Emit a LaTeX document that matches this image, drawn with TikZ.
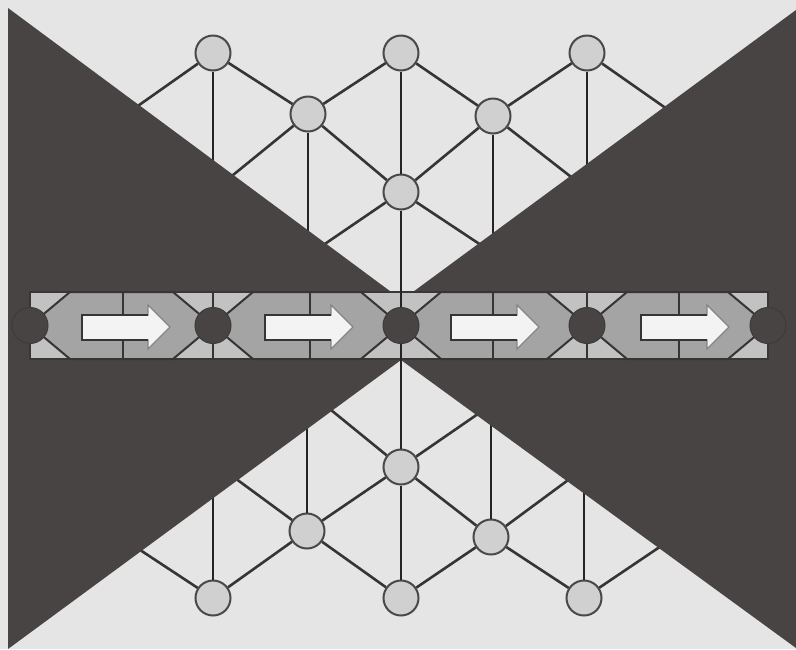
\documentclass[tikz,border=0pt]{standalone}
\usetikzlibrary{calc}
\definecolor{bgl}{HTML}{E5E5E5}
\definecolor{dk}{HTML}{484444}
\definecolor{lin}{HTML}{363434}
\definecolor{vln}{HTML}{262424}
\definecolor{lcf}{HTML}{D0D0D0}
\definecolor{bandl}{HTML}{C2C2C2}
\definecolor{bandm}{HTML}{A4A4A4}
\definecolor{arw}{HTML}{F3F3F3}
\begin{document}
\begin{tikzpicture}[x=1pt,y=-1pt,
  lnode/.style={circle,draw=lin!90,fill=lcf,line width=2pt,minimum size=35pt,inner sep=0pt},
  bnode/.style={circle,draw=dk!85!black,fill=dk,line width=1pt,minimum size=36pt,inner sep=0pt},
  lat/.style={draw=lin,line width=2.6pt},
  vert/.style={draw=vln,line width=2.9pt},
  bline/.style={draw=lin,line width=2pt},
  hexa/.style={fill=bandm,draw=lin,line width=2pt,line join=miter},
  arrowbody/.style={fill=arw,draw=lin!60,line width=1.3pt,line join=miter},
  arrowedge/.style={draw=lin,line width=2.6pt}]
\useasboundingbox (0,0) rectangle (796,649);
\fill[bgl] (0,0) rectangle (796,649);

% ---------- lattice nodes (top) ----------
\node[lnode] (t1a) at (213,53) {};
\node[lnode] (t1b) at (401,53) {};
\node[lnode] (t1c) at (587,53) {};
\node[lnode] (t2a) at (308,114) {};
\node[lnode] (t2b) at (493,116) {};
\node[lnode] (t3)  at (401,192) {};
% ---------- lattice nodes (bottom) ----------
\node[lnode] (b3)  at (401,467) {};
\node[lnode] (b2a) at (307,531) {};
\node[lnode] (b2b) at (491,537) {};
\node[lnode] (b1a) at (213,598) {};
\node[lnode] (b1b) at (401,598) {};
\node[lnode] (b1c) at (584,598) {};

% free ends (hidden under the dark wedges)
\coordinate (et1) at (125,115);
\coordinate (et2) at (213,178);
\coordinate (et3) at (222,184);
\coordinate (et4) at (308,245);
\coordinate (et5) at (316,250);
\coordinate (et6) at (490,251);
\coordinate (et7) at (584,187);
\coordinate (et8) at (493,248);
\coordinate (et9) at (677,116);
\coordinate (et10) at (587,182);
\coordinate (eb1) at (128,542);
\coordinate (eb2) at (213,482);
\coordinate (eb3) at (224,470);
\coordinate (eb4) at (307,415);
\coordinate (eb5) at (320,401);
\coordinate (eb6) at (488,407);
\coordinate (eb7) at (579,472);
\coordinate (eb8) at (491,410);
\coordinate (eb9) at (673,538);
\coordinate (eb10) at (584,478);

% diagonals top
\draw[lat] (t1a) -- (t2a);
\draw[lat] (t2a) -- (t1b);
\draw[lat] (t1b) -- (t2b);
\draw[lat] (t2b) -- (t1c);
\draw[lat] (t2a) -- (t3);
\draw[lat] (t2b) -- (t3);
\draw[lat] (t1a) -- (et1);
\draw[lat] (t2a) -- (et3);
\draw[lat] (t3) -- (et5);
\draw[lat] (t3) -- (et6);
\draw[lat] (t2b) -- (et7);
\draw[lat] (t1c) -- (et9);
% verticals top
\draw[vert] (t1a) -- (et2);
\draw[vert] (t2a) -- (et4);
\draw[vert] (t1b) -- (t3);
\draw[vert] (t2b) -- (et8);
\draw[vert] (t1c) -- (et10);
% diagonals bottom
\draw[lat] (b1a) -- (b2a);
\draw[lat] (b2a) -- (b1b);
\draw[lat] (b1b) -- (b2b);
\draw[lat] (b2b) -- (b1c);
\draw[lat] (b2a) -- (b3);
\draw[lat] (b2b) -- (b3);
\draw[lat] (b1a) -- (eb1);
\draw[lat] (b2a) -- (eb3);
\draw[lat] (b3) -- (eb5);
\draw[lat] (b3) -- (eb6);
\draw[lat] (b2b) -- (eb7);
\draw[lat] (b1c) -- (eb9);
% verticals bottom
\draw[vert] (b1a) -- (eb2);
\draw[vert] (b2a) -- (eb4);
\draw[vert] (b3) -- (b1b);
\draw[vert] (b2b) -- (eb8);
\draw[vert] (b1c) -- (eb10);

% ---------- dark wedges ----------
\fill[dk] (8,8) -- (402,300) -- (796,10) -- (796,648) -- (401,360) -- (8,649) -- cycle;

% ---------- band ----------
\draw[fill=bandl,draw=dk!80!black,line width=1.2pt] (30,292) rectangle (768,359);
\foreach \a/\b in {30/213,213/401,401/587,587/768}{
  \draw[hexa] (\a,325.5) -- ({\a+40},292) -- ({\b-40},292) -- (\b,325.5)
              -- ({\b-40},359) -- ({\a+40},359) -- cycle;
}
\foreach \i/\x in {1/123,2/213,3/310,4/493,5/587,6/679}{
  \coordinate (vt\i) at (\x,292);
  \coordinate (vb\i) at (\x,359);
  \draw[bline] (vt\i) -- (vb\i);
}
\draw[vert] (t3) -- (b3);
\foreach \n/\x in {0/30,1/213,2/401,3/587,4/768}{
  \node[bnode] (c\n) at (\x,325.5) {};
}

% ---------- arrows ----------
\foreach \L in {82,265,451,641}{
  \filldraw[arrowbody] (\L,315) -- ({\L+66},315) -- ({\L+66},305) -- ({\L+88},327)
      -- ({\L+66},349) -- ({\L+66},340) -- (\L,340) -- cycle;
  \draw[arrowedge] ({\L-1},315) -- ({\L+66},315);
  \draw[arrowedge] ({\L-1},340) -- ({\L+66},340);
  \draw[draw=lin,line width=2pt] (\L,315) -- (\L,340);
}
\end{tikzpicture}
\end{document}
